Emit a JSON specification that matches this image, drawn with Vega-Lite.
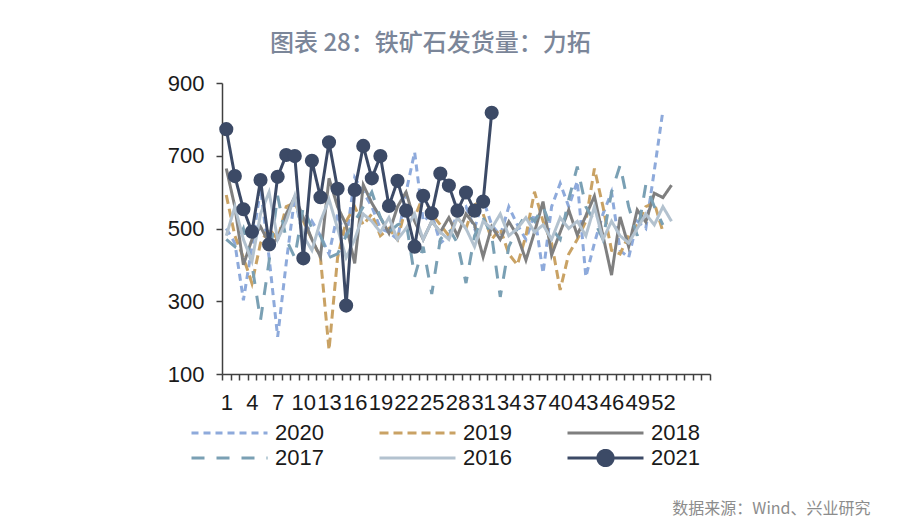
{
  "$schema": "https://vega.github.io/schema/vega-lite/v6.json",
  "width": 488,
  "height": 291,
  "autosize": {"type": "none"},
  "padding": {"left": 222, "top": 83, "right": 190, "bottom": 154},
  "background": "white",
  "title": {"text": "图表 28：铁矿石发货量：力拓", "anchor": "start", "frame": "group", "dx": 48, "offset": 16, "font": "Noto Sans CJK SC", "fontSize": 24, "fontWeight": 500, "color": "#7b8699"},
  "config": {"view": {"stroke": null}, "axis": {"grid": false}},
  "datasets": {
    "series": [
      {"year":"2020","week":1,"value":500},{"year":"2020","week":2,"value":460},{"year":"2020","week":3,"value":303},{"year":"2020","week":4,"value":450},{"year":"2020","week":5,"value":610},{"year":"2020","week":6,"value":420},{"year":"2020","week":7,"value":202},{"year":"2020","week":8,"value":405},{"year":"2020","week":9,"value":587},{"year":"2020","week":10,"value":470},
      {"year":"2020","week":11,"value":520},{"year":"2020","week":12,"value":480},{"year":"2020","week":13,"value":430},{"year":"2020","week":14,"value":540},{"year":"2020","week":15,"value":470},{"year":"2020","week":16,"value":640},{"year":"2020","week":17,"value":600},{"year":"2020","week":18,"value":560},{"year":"2020","week":19,"value":500},{"year":"2020","week":20,"value":490},
      {"year":"2020","week":21,"value":470},{"year":"2020","week":22,"value":600},{"year":"2020","week":23,"value":710},{"year":"2020","week":24,"value":520},{"year":"2020","week":25,"value":540},{"year":"2020","week":26,"value":460},{"year":"2020","week":27,"value":480},{"year":"2020","week":28,"value":540},{"year":"2020","week":29,"value":560},{"year":"2020","week":30,"value":500},
      {"year":"2020","week":31,"value":580},{"year":"2020","week":32,"value":510},{"year":"2020","week":33,"value":480},{"year":"2020","week":34,"value":560},{"year":"2020","week":35,"value":510},{"year":"2020","week":36,"value":470},{"year":"2020","week":37,"value":540},{"year":"2020","week":38,"value":377},{"year":"2020","week":39,"value":560},{"year":"2020","week":40,"value":624},
      {"year":"2020","week":41,"value":560},{"year":"2020","week":42,"value":630},{"year":"2020","week":43,"value":367},{"year":"2020","week":44,"value":460},{"year":"2020","week":45,"value":540},{"year":"2020","week":46,"value":600},{"year":"2020","week":47,"value":440},{"year":"2020","week":48,"value":420},{"year":"2020","week":49,"value":520},{"year":"2020","week":50,"value":500},
      {"year":"2020","week":51,"value":660},{"year":"2020","week":52,"value":824},

      {"year":"2019","week":1,"value":592},{"year":"2019","week":2,"value":480},{"year":"2019","week":3,"value":420},{"year":"2019","week":4,"value":349},{"year":"2019","week":5,"value":460},{"year":"2019","week":6,"value":500},{"year":"2019","week":7,"value":470},{"year":"2019","week":8,"value":560},{"year":"2019","week":9,"value":570},{"year":"2019","week":10,"value":520},
      {"year":"2019","week":11,"value":470},{"year":"2019","week":12,"value":420},{"year":"2019","week":13,"value":166},{"year":"2019","week":14,"value":420},{"year":"2019","week":15,"value":520},{"year":"2019","week":16,"value":560},{"year":"2019","week":17,"value":510},{"year":"2019","week":18,"value":540},{"year":"2019","week":19,"value":480},{"year":"2019","week":20,"value":500},
      {"year":"2019","week":21,"value":470},{"year":"2019","week":22,"value":560},{"year":"2019","week":23,"value":530},{"year":"2019","week":24,"value":590},{"year":"2019","week":25,"value":540},{"year":"2019","week":26,"value":510},{"year":"2019","week":27,"value":480},{"year":"2019","week":28,"value":530},{"year":"2019","week":29,"value":500},{"year":"2019","week":30,"value":570},
      {"year":"2019","week":31,"value":540},{"year":"2019","week":32,"value":470},{"year":"2019","week":33,"value":500},{"year":"2019","week":34,"value":430},{"year":"2019","week":35,"value":400},{"year":"2019","week":36,"value":480},{"year":"2019","week":37,"value":601},{"year":"2019","week":38,"value":520},{"year":"2019","week":39,"value":460},{"year":"2019","week":40,"value":331},
      {"year":"2019","week":41,"value":430},{"year":"2019","week":42,"value":470},{"year":"2019","week":43,"value":520},{"year":"2019","week":44,"value":665},{"year":"2019","week":45,"value":560},{"year":"2019","week":46,"value":440},{"year":"2019","week":47,"value":430},{"year":"2019","week":48,"value":480},{"year":"2019","week":49,"value":510},{"year":"2019","week":50,"value":560},
      {"year":"2019","week":51,"value":570},{"year":"2019","week":52,"value":491},

      {"year":"2018","week":1,"value":665},{"year":"2018","week":2,"value":560},{"year":"2018","week":3,"value":400},{"year":"2018","week":4,"value":470},{"year":"2018","week":5,"value":505},{"year":"2018","week":6,"value":460},{"year":"2018","week":7,"value":470},{"year":"2018","week":8,"value":540},{"year":"2018","week":9,"value":587},{"year":"2018","week":10,"value":530},
      {"year":"2018","week":11,"value":470},{"year":"2018","week":12,"value":422},{"year":"2018","week":13,"value":638},{"year":"2018","week":14,"value":560},{"year":"2018","week":15,"value":510},{"year":"2018","week":16,"value":404},{"year":"2018","week":17,"value":620},{"year":"2018","week":18,"value":570},{"year":"2018","week":19,"value":530},{"year":"2018","week":20,"value":487},
      {"year":"2018","week":21,"value":560},{"year":"2018","week":22,"value":600},{"year":"2018","week":23,"value":520},{"year":"2018","week":24,"value":470},{"year":"2018","week":25,"value":520},{"year":"2018","week":26,"value":490},{"year":"2018","week":27,"value":530},{"year":"2018","week":28,"value":480},{"year":"2018","week":29,"value":540},{"year":"2018","week":30,"value":510},
      {"year":"2018","week":31,"value":422},{"year":"2018","week":32,"value":505},{"year":"2018","week":33,"value":470},{"year":"2018","week":34,"value":519},{"year":"2018","week":35,"value":480},{"year":"2018","week":36,"value":413},{"year":"2018","week":37,"value":490},{"year":"2018","week":38,"value":574},{"year":"2018","week":39,"value":427},{"year":"2018","week":40,"value":490},
      {"year":"2018","week":41,"value":551},{"year":"2018","week":42,"value":482},{"year":"2018","week":43,"value":535},{"year":"2018","week":44,"value":589},{"year":"2018","week":45,"value":480},{"year":"2018","week":46,"value":372},{"year":"2018","week":47,"value":532},{"year":"2018","week":48,"value":450},{"year":"2018","week":49,"value":551},{"year":"2018","week":50,"value":518},
      {"year":"2018","week":51,"value":597},{"year":"2018","week":52,"value":585},{"year":"2018","week":53,"value":619},

      {"year":"2017","week":1,"value":470},{"year":"2017","week":2,"value":450},{"year":"2017","week":3,"value":500},{"year":"2017","week":4,"value":400},{"year":"2017","week":5,"value":248},{"year":"2017","week":6,"value":410},{"year":"2017","week":7,"value":590},{"year":"2017","week":8,"value":470},{"year":"2017","week":9,"value":420},{"year":"2017","week":10,"value":560},
      {"year":"2017","week":11,"value":500},{"year":"2017","week":12,"value":480},{"year":"2017","week":13,"value":420},{"year":"2017","week":14,"value":430},{"year":"2017","week":15,"value":480},{"year":"2017","week":16,"value":520},{"year":"2017","week":17,"value":560},{"year":"2017","week":18,"value":600},{"year":"2017","week":19,"value":530},{"year":"2017","week":20,"value":490},
      {"year":"2017","week":21,"value":510},{"year":"2017","week":22,"value":520},{"year":"2017","week":23,"value":367},{"year":"2017","week":24,"value":450},{"year":"2017","week":25,"value":320},{"year":"2017","week":26,"value":470},{"year":"2017","week":27,"value":500},{"year":"2017","week":28,"value":460},{"year":"2017","week":29,"value":350},{"year":"2017","week":30,"value":480},
      {"year":"2017","week":31,"value":530},{"year":"2017","week":32,"value":480},{"year":"2017","week":33,"value":312},{"year":"2017","week":34,"value":450},{"year":"2017","week":35,"value":500},{"year":"2017","week":36,"value":540},{"year":"2017","week":37,"value":520},{"year":"2017","week":38,"value":560},{"year":"2017","week":39,"value":500},{"year":"2017","week":40,"value":470},
      {"year":"2017","week":41,"value":580},{"year":"2017","week":42,"value":670},{"year":"2017","week":43,"value":560},{"year":"2017","week":44,"value":520},{"year":"2017","week":45,"value":470},{"year":"2017","week":46,"value":600},{"year":"2017","week":47,"value":674},{"year":"2017","week":48,"value":560},{"year":"2017","week":49,"value":480},{"year":"2017","week":50,"value":620},
      {"year":"2017","week":51,"value":560},{"year":"2017","week":52,"value":510},

      {"year":"2016","week":1,"value":480},{"year":"2016","week":2,"value":560},{"year":"2016","week":3,"value":470},{"year":"2016","week":4,"value":410},{"year":"2016","week":5,"value":540},{"year":"2016","week":6,"value":600},{"year":"2016","week":7,"value":470},{"year":"2016","week":8,"value":520},{"year":"2016","week":9,"value":590},{"year":"2016","week":10,"value":480},
      {"year":"2016","week":11,"value":440},{"year":"2016","week":12,"value":520},{"year":"2016","week":13,"value":580},{"year":"2016","week":14,"value":500},{"year":"2016","week":15,"value":420},{"year":"2016","week":16,"value":470},{"year":"2016","week":17,"value":540},{"year":"2016","week":18,"value":520},{"year":"2016","week":19,"value":490},{"year":"2016","week":20,"value":530},
      {"year":"2016","week":21,"value":470},{"year":"2016","week":22,"value":500},{"year":"2016","week":23,"value":540},{"year":"2016","week":24,"value":470},{"year":"2016","week":25,"value":520},{"year":"2016","week":26,"value":490},{"year":"2016","week":27,"value":470},{"year":"2016","week":28,"value":530},{"year":"2016","week":29,"value":500},{"year":"2016","week":30,"value":450},
      {"year":"2016","week":31,"value":520},{"year":"2016","week":32,"value":500},{"year":"2016","week":33,"value":540},{"year":"2016","week":34,"value":480},{"year":"2016","week":35,"value":500},{"year":"2016","week":36,"value":530},{"year":"2016","week":37,"value":490},{"year":"2016","week":38,"value":510},{"year":"2016","week":39,"value":470},{"year":"2016","week":40,"value":530},
      {"year":"2016","week":41,"value":500},{"year":"2016","week":42,"value":520},{"year":"2016","week":43,"value":480},{"year":"2016","week":44,"value":560},{"year":"2016","week":45,"value":470},{"year":"2016","week":46,"value":520},{"year":"2016","week":47,"value":480},{"year":"2016","week":48,"value":460},{"year":"2016","week":49,"value":500},{"year":"2016","week":50,"value":540},
      {"year":"2016","week":51,"value":510},{"year":"2016","week":52,"value":560},{"year":"2016","week":53,"value":520},

      {"year":"2021","week":1,"value":773},{"year":"2021","week":2,"value":644},{"year":"2021","week":3,"value":553},{"year":"2021","week":4,"value":491},{"year":"2021","week":5,"value":633},{"year":"2021","week":6,"value":456},{"year":"2021","week":7,"value":642},{"year":"2021","week":8,"value":702},{"year":"2021","week":9,"value":699},{"year":"2021","week":10,"value":418},
      {"year":"2021","week":11,"value":686},{"year":"2021","week":12,"value":586},{"year":"2021","week":13,"value":737},{"year":"2021","week":14,"value":609},{"year":"2021","week":15,"value":288},{"year":"2021","week":16,"value":606},{"year":"2021","week":17,"value":727},{"year":"2021","week":18,"value":638},{"year":"2021","week":19,"value":699},{"year":"2021","week":20,"value":562},
      {"year":"2021","week":21,"value":631},{"year":"2021","week":22,"value":549},{"year":"2021","week":23,"value":450},{"year":"2021","week":24,"value":590},{"year":"2021","week":25,"value":542},{"year":"2021","week":26,"value":651},{"year":"2021","week":27,"value":618},{"year":"2021","week":28,"value":549},{"year":"2021","week":29,"value":599},{"year":"2021","week":30,"value":549},
      {"year":"2021","week":31,"value":574},{"year":"2021","week":32,"value":818}
    ]
  },
  "data": {"name": "series"},
  "layer": [
    {
      "mark": {"type": "line", "strokeWidth": 3},
      "encoding": {
        "x": {
          "field": "week", "type": "quantitative",
          "scale": {"domain": [0.5, 57.5], "nice": false, "zero": false},
          "axis": {"orient": "bottom", "values": [1,4,7,10,13,16,19,22,25,28,31,34,37,40,43,46,49,52], "ticks": false, "tickSize": 0, "domain": false, "labelPadding": 18, "labelFont": "Liberation Sans", "labelFontSize": 22, "labelColor": "#1a1a1a", "labelOverlap": false, "labelFlush": false, "title": null}
        },
        "y": {
          "field": "value", "type": "quantitative",
          "scale": {"domain": [100, 900], "nice": false, "zero": false},
          "axis": {"values": [100,300,500,700,900], "tickSize": 6, "tickColor": "#404040", "tickWidth": 1.5, "domainColor": "#404040", "domainWidth": 1.5, "labelPadding": 12, "labelFont": "Liberation Sans", "labelFontSize": 22, "labelColor": "#1a1a1a", "title": null}
        },
        "color": {
          "field": "year", "type": "nominal",
          "scale": {"domain": ["2020","2017","2019","2016","2018","2021"], "range": ["#8eaadb","#7aa0b4","#c9a264","#b3c2cf","#7f7f7f","#3c4a66"]},
          "legend": {
            "orient": "none", "legendX": -32, "legendY": 339, "columns": 3, "columnPadding": 54, "rowPadding": 3,
            "symbolType": "stroke", "symbolSize": 5776, "symbolStrokeWidth": 3, "clipHeight": 22, "padding": 0, "offset": 0,
            "labelFont": "Liberation Sans", "labelFontSize": 22, "labelColor": "#1a1a1a", "labelOffset": 6, "title": null,
            "encode": {"symbols": {"update": {
              "shape": {"signal": "datum.value === '2021' ? 'M-1,0L1,0M0.2,0A0.2,0.2,0,1,1,-0.2,0A0.2,0.2,0,1,1,0.2,0Z' : 'stroke'"},
              "fill": {"signal": "datum.value === '2021' ? '#3c4a66' : 'transparent'"}
            }}}
          }
        },
        "strokeDash": {
          "field": "year", "type": "nominal",
          "scale": {"domain": ["2020","2017","2019","2016","2018","2021"], "range": [[7,5],[13,12],[9,5],[1,0],[1,0],[1,0]]}
        }
      }
    },
    {
      "transform": [{"filter": "datum.year === '2021'"}],
      "mark": {"type": "point", "shape": "circle", "filled": true, "size": 200, "opacity": 1, "color": "#3c4a66"},
      "encoding": {
        "x": {
          "field": "week", "type": "quantitative",
          "axis": {"orient": "bottom", "values": [0.5,1.5,2.5,3.5,4.5,5.5,6.5,7.5,8.5,9.5,10.5,11.5,12.5,13.5,14.5,15.5,16.5,17.5,18.5,19.5,20.5,21.5,22.5,23.5,24.5,25.5,26.5,27.5,28.5,29.5,30.5,31.5,32.5,33.5,34.5,35.5,36.5,37.5,38.5,39.5,40.5,41.5,42.5,43.5,44.5,45.5,46.5,47.5,48.5,49.5,50.5,51.5,52.5,53.5,54.5,55.5,56.5,57.5], "labels": false, "tickSize": 6, "tickColor": "#404040", "tickWidth": 1.5, "domainColor": "#404040", "domainWidth": 1.5,
            "title": "数据来源：Wind、兴业研究", "titleX": 648, "titleY": 139, "titleAlign": "right", "titleBaseline": "alphabetic", "titleFont": "Noto Sans CJK SC", "titleFontSize": 16, "titleFontWeight": "normal", "titleColor": "#8c8c8c"}
        },
        "y": {"field": "value", "type": "quantitative"}
      }
    }
  ],
  "resolve": {"axis": {"x": "independent"}}
}
